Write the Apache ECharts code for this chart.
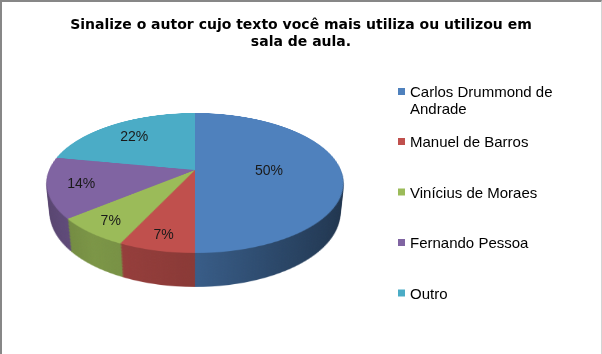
<!DOCTYPE html>
<html><head><meta charset="utf-8">
<script src="https://cdn.jsdelivr.net/npm/echarts@6/dist/echarts.min.js"></script>
<style>
html,body{margin:0;padding:0;background:#fff;overflow:hidden;}
#stage{position:absolute;left:0;top:0;width:602px;height:354px;overflow:hidden;}
.layer{position:absolute;}
#chart{position:absolute;left:0;top:0;width:602px;height:354px;}
#frame{position:absolute;left:0;top:0;width:602px;height:354px;box-sizing:border-box;border-top:2px solid #878787;border-left:2px solid #878787;border-right:1px solid #d4d4d4;pointer-events:none;}
</style></head><body>
<div id="stage"></div><div id="chart"></div><div id="frame"></div>
<script>
// ---- data ----
const categories = ['Carlos Drummond de Andrade', 'Manuel de Barros', 'Vinícius de Moraes', 'Fernando Pessoa', 'Outro'];
const values = [50, 7, 7, 14, 22];
const colors = ['#4F81BD', '#C0504D', '#9BBB59', '#8064A2', '#4BACC6'];
const titleText = 'Sinalize o autor cujo texto você mais utiliza ou utilizou em\nsala de aula.';

// ---- 3D view (layout) ----
const CX = 194.5, CY = 170;          // screen position of the pie centre
const R = 145.9;                       // pie radius in its own plane
const TILT = 62.4 * Math.PI / 180;     // rotateX
const PERSP = 696;                     // perspective distance
const DEPTH = 34.2;                    // thickness
const H = 160;                         // half size of a layer div
const FONT = '"Liberation Sans", Arial, sans-serif';

function shade(hex, f) {
  const n = parseInt(hex.slice(1), 16);
  const r = Math.round(((n >> 16) & 255) * f), g = Math.round(((n >> 8) & 255) * f), b = Math.round((n & 255) * f);
  return 'rgb(' + r + ',' + g + ',' + b + ')';
}
function sideColor(c) {
  return { type: 'linear', x: H - R, y: 0, x2: H + R, y2: 0, global: true,
    colorStops: [
      { offset: 0, color: shade(c, 0.68) }, { offset: 0.2, color: shade(c, 0.8) },
      { offset: 0.5, color: shade(c, 0.72) }, { offset: 0.75, color: shade(c, 0.55) },
      { offset: 1, color: shade(c, 0.4) }] };
}
function addLayer(d, top) {
  const el = document.createElement('div');
  el.className = 'layer';
  el.style.left = (CX - H) + 'px';
  el.style.top = (CY - H) + 'px';
  el.style.width = (2 * H) + 'px';
  el.style.height = (2 * H) + 'px';
  el.style.transformOrigin = H + 'px ' + H + 'px';
  el.style.transform = 'perspective(' + PERSP + 'px) rotateX(' + (TILT * 180 / Math.PI) + 'deg) translateZ(' + (-d) + 'px)';
  document.getElementById('stage').appendChild(el);
  const c = echarts.init(el, null, { renderer: 'canvas', devicePixelRatio: 2 });
  c.setOption({
    animation: false,
    series: [{
      type: 'pie', center: ['50%', '50%'], radius: R, startAngle: 90, clockwise: true,
      silent: true, label: { show: false }, labelLine: { show: false }, emphasis: { disabled: true },
      data: values.map((v, i) => ({ name: categories[i], value: v,
        itemStyle: { color: top ? colors[i] : sideColor(colors[i]), borderWidth: 0 } }))
    }]
  });
}
for (let d = DEPTH; d > 0.3; d -= 1.5) addLayer(d, false);
addLayer(0, true);

// project a point of the pie plane (relative to centre) onto the screen
function project(px, py) {
  const z = py * Math.sin(TILT);
  const s = PERSP / (PERSP - z);
  return [CX + px * s, CY + py * Math.cos(TILT) * s];
}
const total = values.reduce((a, b) => a + b, 0);

// ---- overlay: title, legend, labels ----
const chart = echarts.init(document.getElementById('chart'), null, { renderer: 'svg' });
const legendText = { fontFamily: FONT, fontSize: 15, color: '#000', lineHeight: 17 };
chart.setOption({
  animation: false,
  title: { text: titleText, left: 301, top: 15, textAlign: 'center', padding: 0,
    textStyle: { fontFamily: '"DejaVu Sans", sans-serif', fontSize: 14, fontWeight: 'bold', color: '#000', lineHeight: 17 } },
  legend: [
    { orient: 'vertical', left: 398, top: 66, padding: 0, icon: 'rect', itemWidth: 7, itemHeight: 7,
      selectedMode: false, formatter: n => '\n' + n,
      data: [{ name: categories[0], itemStyle: { color: colors[0], opacity: 1 } }],
      textStyle: Object.assign({ width: 150, overflow: 'break' }, legendText) },
    { orient: 'vertical', left: 398, top: 133, padding: 0, icon: 'rect', itemWidth: 7, itemHeight: 7,
      itemGap: 33.5, selectedMode: false,
      data: categories.slice(1).map((n, i) => ({ name: n, itemStyle: { color: colors[i + 1], opacity: 1 } })),
      textStyle: legendText }
  ],
  series: [{
    type: 'pie', center: [CX, CY], radius: [0, R], startAngle: 90, clockwise: true,
    silent: true, emphasis: { disabled: true },
    itemStyle: { color: 'rgba(0,0,0,0)', borderWidth: 0 },
    label: { show: true, position: 'inside', formatter: '{d}%', fontFamily: FONT, fontSize: 14, color: '#1a1a1a' },
    labelLine: { show: false },
    labelLayout: function (p) {
      const r = p.labelRect;
      const dx = r.x + r.width / 2 - CX, dy = r.y + r.height / 2 - CY;
      // inside labels sit at R/2; smaller slices are pushed outward (Excel best fit)
      const k = 0.49 + 0.7 * (0.5 - values[p.dataIndex] / total);
      const f = 2 * k;
      const pt = project(dx * f, dy * f);
      return { x: pt[0], y: pt[1] };
    },
    data: values.map((v, i) => ({ name: categories[i], value: v }))
  }]
});
</script>
</body></html>
